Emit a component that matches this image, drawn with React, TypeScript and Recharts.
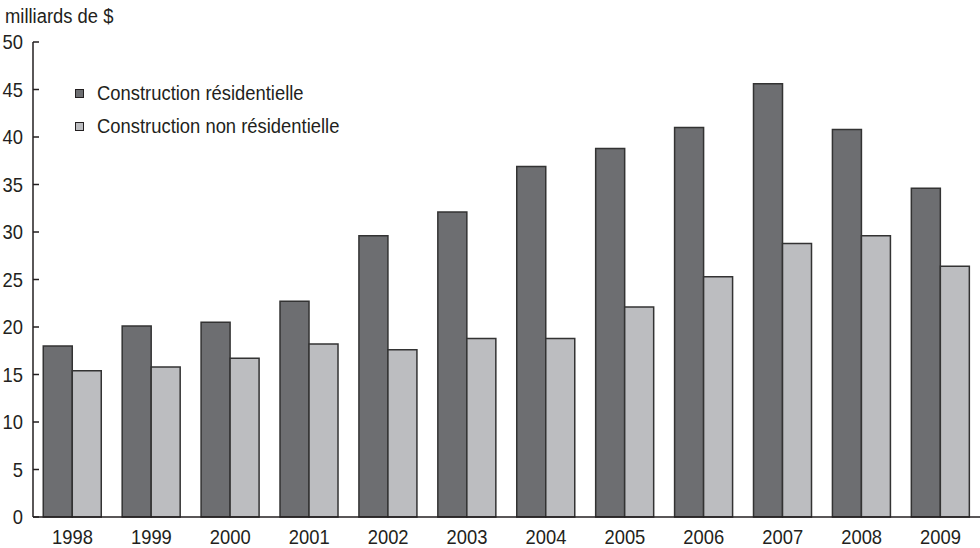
import { BarChart, Bar, XAxis, YAxis } from 'recharts';

const years = ['1998', '1999', '2000', '2001', '2002', '2003', '2004', '2005', '2006', '2007', '2008', '2009'];
const residentielle = [18.0, 20.1, 20.5, 22.7, 29.6, 32.1, 36.9, 38.8, 41.0, 45.6, 40.8, 34.6];
const nonResidentielle = [15.4, 15.8, 16.7, 18.2, 17.6, 18.8, 18.8, 22.1, 25.3, 28.8, 29.6, 26.4];
const yTicks = [0, 5, 10, 15, 20, 25, 30, 35, 40, 45, 50];

const series = [
  { key: 'res', name: 'Construction résidentielle', color: '#6d6e71' },
  { key: 'nonRes', name: 'Construction non résidentielle', color: '#bcbdc0' },
];

const data = years.map((year, i) => ({
  year,
  res: residentielle[i],
  nonRes: nonResidentielle[i],
}));

const FONT = '"Liberation Sans", Arial, sans-serif';
const INK = '#231f20';
const SQUEEZE = 0.92;
const FS = 20;

const YTick = (props: any) => {
  const { x, y, payload } = props;
  return (
    <g>
      <line x1={x + 8} x2={x + 14} y1={y} y2={y} stroke={INK} strokeWidth={1.5} />
      <text
        transform={`translate(${x - 2},${y + 7}) scale(${SQUEEZE},1)`}
        textAnchor="end"
        fill={INK}
        fontSize={FS}
        fontFamily={FONT}
      >
        {payload.value}
      </text>
    </g>
  );
};

const XTick = (props: any) => {
  const { x, y, payload } = props;
  return (
    <text
      transform={`translate(${x},${y + 19}) scale(${SQUEEZE},1)`}
      textAnchor="middle"
      fill={INK}
      fontSize={FS}
      fontFamily={FONT}
    >
      {payload.value}
    </text>
  );
};

const squeezed = {
  fontFamily: FONT,
  fontSize: FS,
  color: INK,
  transform: `scaleX(${SQUEEZE})`,
  transformOrigin: 'left center',
  whiteSpace: 'nowrap' as const,
};

export default function App() {
  return (
    <div style={{ position: 'absolute', left: 0, top: 0, width: 980, height: 548, background: '#fff' }}>
      <div style={{ position: 'absolute', left: 5, top: 5, ...squeezed }}>milliards de $</div>
      <div style={{ position: 'absolute', left: 75, top: 77, zIndex: 2 }}>
        {series.map((s) => (
          <div key={s.key} style={{ display: 'flex', alignItems: 'center', height: 33 }}>
            <span
              style={{
                display: 'inline-block',
                width: 7,
                height: 7,
                background: s.color,
                border: `1.5px solid ${INK}`,
                marginRight: 13,
              }}
            />
            <span style={squeezed}>{s.name}</span>
          </div>
        ))}
      </div>
      <BarChart
        width={980}
        height={548}
        data={data}
        margin={{ top: 42, right: 0, bottom: 0, left: 0 }}
        barCategoryGap="13%"
        barGap={0}
      >
        <XAxis
          dataKey="year"
          height={31}
          tickLine={false}
          axisLine={{ stroke: INK, strokeWidth: 1.5 }}
          tick={<XTick />}
          interval={0}
        />
        <YAxis
          width={33}
          domain={[0, 50]}
          ticks={yTicks}
          interval={0}
          tickLine={false}
          axisLine={{ stroke: INK, strokeWidth: 1.5 }}
          tick={<YTick />}
        />
        {series.map((s) => (
          <Bar
            key={s.key}
            dataKey={s.key}
            name={s.name}
            fill={s.color}
            stroke="#333333"
            strokeWidth={1.5}
            isAnimationActive={false}
          />
        ))}
      </BarChart>
    </div>
  );
}
